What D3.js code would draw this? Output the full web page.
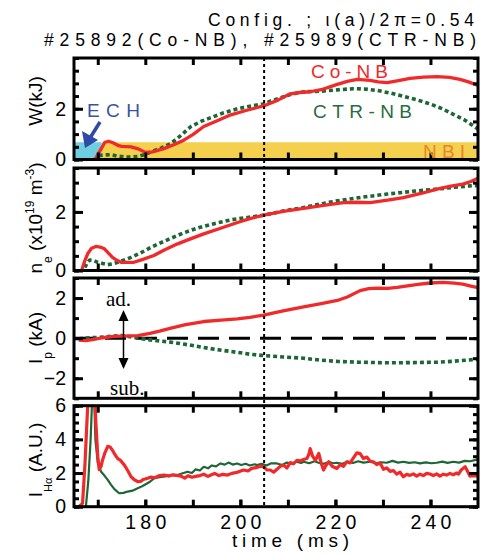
<!DOCTYPE html>
<html lang="en">
<head>
<meta charset="UTF-8">
<title>LHD Co-NB vs CTR-NB</title>
<script src="https://cdn.jsdelivr.net/npm/d3@7"></script>
<style>
    body { margin: 0; background: #fff; }
    svg text { font-family: "Liberation Sans", Arial, sans-serif; }
    .serif { font-family: "Liberation Serif", "Times New Roman", serif !important; }
</style>
</head>
<body>
<div id="chart"></div>
<script>
// ---- data (time in ms) ----
var timeTicks = [170, 180, 190, 200, 210, 220, 230, 240];
var timeLabels = [180, 200, 220, 240];
var markTime = 205;
var echSpan = [165, 170.8];
var nbiSpan = [170.8, 250];
var heatLevel = 0.68;

var wCo = [[169.4,0],[170.5,0.35],[171.5,0.68],[172.3,0.72],[173.2,0.66],[174.2,0.56],[175,0.52],[177,0.5],[178.5,0.42],[180,0.28],[181.5,0.3],[183.9,0.43],[186,0.58],[188.1,0.76],[190,0.98],[192.3,1.3],[195,1.52],[198,1.76],[201,1.92],[205,2.12],[208,2.35],[210.5,2.59],[212.5,2.64],[214.7,2.67],[217,2.75],[220.4,2.96],[222.5,3.08],[224.6,3.16],[227.3,3.12],[229,3.06],[230.9,3.03],[233,3.1],[235.7,3.2],[238.5,3.25],[241.4,3.27],[244,3.24],[246.2,3.16],[248,3.06],[250,2.92]];
var wCtr = [[170.2,0.16],[171.5,0.18],[172.8,0.19],[174,0.14],[175.5,0.1],[177,0.1],[178.4,0.12],[180,0.2],[181.2,0.3],[183.3,0.45],[185.4,0.63],[187.5,0.95],[189.6,1.3],[191.7,1.5],[193.8,1.65],[196.5,1.84],[199.4,2.0],[202,2.1],[204.9,2.19],[206.3,2.3],[208.4,2.43],[210.5,2.56],[212.6,2.65],[214.7,2.68],[216.8,2.69],[220,2.74],[223.8,2.79],[226,2.78],[228.8,2.72],[231.5,2.62],[234.3,2.49],[237,2.36],[239.9,2.19],[242.5,2.0],[244.7,1.79],[247,1.58],[249,1.33],[250,1.2]];

var neCo = [[166.6,0],[167.2,0.3],[167.9,0.58],[168.7,0.76],[169.6,0.82],[170.5,0.8],[171.4,0.74],[172.2,0.6],[173.1,0.45],[174,0.35],[174.9,0.28],[177.6,0.28],[179.5,0.38],[181.8,0.51],[184,0.7],[186.8,0.91],[189.5,1.08],[192.3,1.25],[196,1.45],[199.4,1.64],[202,1.77],[204.9,1.89],[209,2.02],[213.3,2.12],[217.5,2.22],[221.7,2.32],[224.5,2.33],[227.3,2.32],[231,2.4],[234.3,2.49],[238,2.63],[241.4,2.78],[244,2.87],[246.8,2.95],[248.5,3.04],[250,3.15]];
var neCtr = [[167.3,0.1],[167.8,0.28],[168.3,0.36],[169.2,0.34],[170,0.28],[171,0.24],[172.1,0.2],[173.2,0.23],[174.2,0.28],[175.6,0.36],[177,0.45],[179,0.6],[181.2,0.79],[183.3,0.95],[185.4,1.1],[188,1.28],[191,1.45],[194.5,1.6],[198,1.73],[201.5,1.81],[204.9,1.89],[209,2.03],[213.3,2.15],[216.8,2.27],[220.4,2.38],[225.5,2.5],[230.9,2.61],[236,2.7],[241.4,2.78],[245,2.84],[248.3,2.89],[250,2.9]];

var ipCo = [[166,-0.1],[167.5,-0.12],[169.2,-0.06],[171,0.02],[173,0.08],[174.9,0.1],[178.4,0.13],[181,0.24],[183,0.35],[185.4,0.5],[188.5,0.67],[192.3,0.83],[196,0.9],[199.4,0.96],[202,1.04],[204.9,1.15],[209,1.36],[213.3,1.56],[217,1.72],[220.4,1.88],[222.5,2.05],[225.2,2.37],[227,2.47],[228.8,2.5],[231,2.48],[233,2.53],[235.5,2.62],[237.8,2.69],[240,2.75],[242.6,2.78],[245,2.74],[246.8,2.69],[248.5,2.6],[250,2.52]];
var ipCtr = [[166,-0.03],[168.5,0.02],[171.3,0.05],[173,0.1],[174.9,0.13],[176.5,0.08],[178.4,0],[181.5,-0.1],[185.4,-0.2],[189,-0.33],[192.3,-0.47],[196,-0.6],[199.4,-0.71],[202,-0.8],[204.9,-0.87],[209,-0.94],[213.3,-1.0],[217,-1.1],[220.4,-1.16],[225,-1.2],[230.9,-1.23],[236,-1.22],[241.4,-1.2],[245,-1.15],[249,-1.07],[250,-1.05]];

var haCo = [[166,0],[166.8,0.2],[167.3,2.5],[167.8,5.5],[168.1,7],[169.3,7],[169.6,5],[170,3],[170.3,2.2],[170.7,2.4],[171,2.76],[171.5,3.2],[172.1,3.59],[172.6,3.55],[173.1,3.35],[173.6,3.1],[174.2,2.86],[174.8,2.75],[175.6,2.47],[176.3,2.15],[177,1.78],[177.7,1.6],[178.4,1.49],[179,1.5],[179.6,1.62],[180.5,1.69],[181.2,1.76],[182,1.72],[183,1.85],[184,1.88],[185,1.82],[185.8,1.9],[186.6,1.86],[187.5,1.82],[188.3,1.7],[189,1.84],[189.8,1.75],[190.6,1.8],[191.5,1.85],[192.3,1.93],[193.2,1.8],[193.8,1.88],[194.6,1.98],[195.5,1.85],[196.3,1.92],[197.3,1.88],[198.2,1.98],[199,2.02],[199.9,2.1],[200.7,2.18],[201.6,2.12],[202.4,2.28],[203.3,2.32],[204.2,2.41],[205,2.36],[205.6,2.18],[206.3,2.18],[207,2.05],[207.7,2.22],[208.4,2.4],[209.1,2.47],[209.8,2.3],[210.5,2.62],[211.2,2.55],[211.9,2.76],[212.6,2.72],[213.3,2.8],[214,2.86],[214.4,3.1],[214.7,3.45],[215.2,3.0],[215.8,2.76],[216.5,3.16],[217,2.6],[217.5,2.18],[218,2.45],[218.6,2.67],[219.3,2.4],[220.3,2.27],[221,2.5],[221.7,2.4],[222.4,2.67],[223.1,2.6],[223.8,2.9],[224.5,3.2],[225.2,3.15],[225.9,2.86],[226.6,2.95],[227.3,2.7],[228,2.67],[228.7,2.5],[229.4,2.6],[230.1,2.22],[230.8,2.3],[231.5,2.1],[232.2,2.15],[232.9,1.94],[233.6,2.05],[234.3,1.78],[235,1.92],[235.7,1.86],[236.4,1.95],[237.1,1.82],[237.8,1.93],[238.5,1.85],[239.2,1.98],[239.9,1.94],[240.6,1.85],[241.3,1.95],[242,1.82],[242.7,1.93],[243.4,1.88],[244.1,1.98],[244.8,1.9],[245.5,2.0],[245.9,1.94],[246.5,2.2],[247.3,2.37],[247.8,2.1],[248.3,1.82],[249,1.85],[250,1.82]];
var haCtr = [[167.5,0],[168,1.5],[168.5,4],[168.9,7],[169.2,7],[169.5,4],[170,2.6],[170.7,2.08],[171.4,1.85],[172.1,1.59],[172.8,1.3],[173.5,1.04],[174.5,0.8],[175.4,0.82],[176.3,0.9],[177.3,0.95],[178.4,1.1],[179.1,1.18],[179.8,1.29],[180.8,1.45],[181.9,1.69],[183,1.75],[184.2,1.8],[185.4,1.88],[186.5,1.85],[187.7,1.97],[188.9,2.08],[189.8,2.0],[190.6,2.22],[191.5,2.15],[192.3,2.37],[193.2,2.28],[194,2.45],[194.9,2.4],[195.8,2.57],[196.7,2.5],[197.5,2.62],[198.4,2.5],[199.3,2.57],[200.2,2.48],[201.1,2.55],[202,2.45],[203,2.52],[203.5,2.47],[204.5,2.55],[205.5,2.45],[206.5,2.58],[207.7,2.57],[208.8,2.48],[209.8,2.62],[210.8,2.55],[211.8,2.68],[212.8,2.6],[213.3,2.67],[214.5,2.58],[215.6,2.7],[216.6,2.6],[217.6,2.55],[218.6,2.66],[219.5,2.58],[220.3,2.61],[221.5,2.55],[222.6,2.68],[223.7,2.6],[224.8,2.7],[225.9,2.62],[227.3,2.67],[228.5,2.58],[229.6,2.64],[230.8,2.61],[232,2.72],[233.2,2.62],[234.3,2.67],[235.5,2.6],[236.7,2.64],[237.8,2.57],[239,2.63],[240.2,2.58],[241.3,2.61],[242.5,2.68],[243.6,2.6],[244.8,2.67],[246,2.62],[247.2,2.72],[248.4,2.7],[249.7,2.8],[250,2.82]];

// ---- layout ----
var svgw = 487, svgh = 554;
var RED = '#f02a2a', GREEN = '#1d6636';
var svg = d3.select('#chart').append('svg')
    .attr('width', svgw).attr('height', svgh);

var x = d3.scaleLinear().domain([165, 250]).range([74, 478]);

var panels = [
    {top: 58, bottom: 159.5, domain: [0, 4], minor: d3.range(0, 4.01, 0.5), labels: [0, 2]},
    {top: 168, bottom: 270.5, domain: [0, 3.5], minor: d3.range(0, 3.51, 0.5), labels: [0, 2]},
    {top: 278, bottom: 398.3, domain: [-3, 3], minor: d3.range(-3, 3.01, 1), labels: [-2, 0, 2]},
    {top: 405.7, bottom: 506.7, domain: [0, 6], minor: d3.range(0, 6.01, 0.5), labels: [0, 2, 4, 6]}
];
panels.forEach(function (p, i) {
    p.y = d3.scaleLinear().domain(p.domain).range([p.bottom, p.top]);
    svg.append('clipPath').attr('id', 'clip' + i)
        .append('rect').attr('x', x.range()[0]).attr('y', p.top)
        .attr('width', x.range()[1] - x.range()[0]).attr('height', p.bottom - p.top);
});

function lineFor(p) {
    return d3.line().x(function (d) { return x(d[0]); }).y(function (d) { return p.y(d[1]); });
}
function plot(i, data, color, width, dash) {
    var p = panels[i];
    svg.append('path').datum(data)
        .attr('clip-path', 'url(#clip' + i + ')')
        .attr('d', lineFor(p))
        .attr('fill', 'none').attr('stroke', color)
        .attr('stroke-width', width)
        .attr('stroke-dasharray', dash || null)
        .attr('stroke-linejoin', 'round');
}

// heating bands in the W panel
var p0 = panels[0];
svg.append('rect').attr('x', x(nbiSpan[0])).attr('width', x(nbiSpan[1]) - x(nbiSpan[0]))
    .attr('y', p0.y(heatLevel)).attr('height', p0.y(0) - p0.y(heatLevel)).attr('fill', '#f4d04e');
svg.append('rect').attr('x', x(echSpan[0])).attr('width', x(echSpan[1]) - x(echSpan[0]))
    .attr('y', p0.y(heatLevel)).attr('height', p0.y(0) - p0.y(heatLevel)).attr('fill', '#6fcfe0');

// zero line in Ip panel
svg.append('line').attr('x1', x(165)).attr('x2', x(250))
    .attr('y1', panels[2].y(0)).attr('y2', panels[2].y(0))
    .attr('stroke', '#000').attr('stroke-width', 3).attr('stroke-dasharray', '21,10');

// series
plot(0, wCtr, GREEN, 3.6, '4,3');
plot(0, wCo, RED, 3.3);
plot(1, neCtr, GREEN, 3.6, '4,3');
plot(1, neCo, RED, 3.3);
plot(2, ipCtr, GREEN, 3.6, '4,3');
plot(2, ipCo, RED, 3.3);
plot(3, haCtr, GREEN, 2.2);
plot(3, haCo, RED, 3.2);

// vertical dotted marker
svg.append('line').attr('x1', x(markTime)).attr('x2', x(markTime))
    .attr('y1', panels[0].top).attr('y2', panels[3].bottom)
    .attr('stroke', '#000').attr('stroke-width', 2).attr('stroke-dasharray', '3,3');

// frames and axes
panels.forEach(function (p, i) {
    var r = x.range();
    var g = svg.append('g');
    g.append('rect').attr('x', r[0]).attr('y', p.top)
        .attr('width', r[1] - r[0]).attr('height', p.bottom - p.top)
        .attr('fill', 'none').attr('stroke', '#000').attr('stroke-width', 3);

    var bottom = g.append('g').attr('transform', 'translate(0,' + p.bottom + ')')
        .call(d3.axisBottom(x).tickValues(timeTicks).tickSize(-7).tickFormat(''));
    g.append('g').attr('transform', 'translate(0,' + p.top + ')')
        .call(d3.axisTop(x).tickValues(timeTicks).tickSize(-7).tickFormat(''));
    g.append('g').attr('transform', 'translate(' + r[0] + ',0)')
        .call(d3.axisLeft(p.y).tickValues(p.minor).tickSize(-5).tickFormat(''));
    g.append('g').attr('transform', 'translate(' + r[1] + ',0)')
        .call(d3.axisRight(p.y).tickValues(p.minor).tickSize(-5).tickFormat(''));
    g.append('g').attr('transform', 'translate(' + r[0] + ',0)')
        .call(d3.axisLeft(p.y).tickValues(p.labels).tickSize(-9).tickPadding(8).tickFormat(d3.format('d')));
    g.append('g').attr('transform', 'translate(' + r[1] + ',0)')
        .call(d3.axisRight(p.y).tickValues(p.labels).tickSize(-9).tickFormat(''));

    if (i === 3) {
        bottom.remove();
        g.append('g').attr('transform', 'translate(0,' + p.bottom + ')')
            .call(d3.axisBottom(x).tickValues(timeLabels).tickSize(-7).tickPadding(8).tickFormat(d3.format('d')))
            .selectAll('text').attr('textLength', 41).attr('lengthAdjust', 'spacing');
        g.append('g').attr('transform', 'translate(0,' + p.bottom + ')')
            .call(d3.axisBottom(x).tickValues(timeTicks).tickSize(-7).tickFormat(''));
    }
    g.selectAll('.domain').remove();
    g.selectAll('.tick line').attr('stroke', '#000').attr('stroke-width', 3);
    g.selectAll('.tick text').attr('fill', '#000').attr('font-size', 19.5)
        .style('font-family', '"Liberation Sans", Arial, sans-serif');
});

// titles
svg.append('text').attr('x', 208).attr('y', 25.5).attr('font-size', 17.5)
    .attr('textLength', 266).attr('lengthAdjust', 'spacing')
    .text('Config. ; \u03b9(a)/2\u03c0=0.54');
svg.append('text').attr('x', 44).attr('y', 45.5).attr('font-size', 17.5)
    .attr('textLength', 432).attr('lengthAdjust', 'spacing')
    .text('#25892(Co-NB), #25989(CTR-NB)');
svg.append('text').attr('x', 232).attr('y', 547).attr('font-size', 19)
    .attr('textLength', 117).attr('lengthAdjust', 'spacing')
    .text('time (ms)');

// y labels (rotated)
function ylabel(cy, parts) {
    var t = svg.append('text').attr('transform', 'translate(42,' + cy + ') rotate(-90)')
        .attr('text-anchor', 'middle').attr('font-size', 19);
    parts.forEach(function (pt) {
        t.append('tspan').attr('dy', pt[1] || 0).attr('font-size', pt[2] || null).text(pt[0]);
    });
}
ylabel(101, [['W(kJ)']]);
ylabel(218, [['n'], ['e', 10, 12], [' (x10', -10], ['19', -8, 12], [' m', 8], ['-3', -8, 12], [')', 8]]);
ylabel(338, [['I'], ['p', 10, 12], [' (kA)', -10]]);
ylabel(460, [['I'], ['H\u03b1', 10, 11], [' (A.U.)', -10]]);

// annotations
svg.append('text').attr('x', 311).attr('y', 78).attr('font-size', 19).attr('fill', RED)
    .attr('textLength', 77).attr('lengthAdjust', 'spacing').text('Co-NB');
svg.append('text').attr('x', 313).attr('y', 118).attr('font-size', 19).attr('fill', '#2a6c40')
    .attr('textLength', 99).attr('lengthAdjust', 'spacing').text('CTR-NB');
svg.append('text').attr('x', 423).attr('y', 158).attr('font-size', 19).attr('fill', '#e8842c')
    .attr('textLength', 42).attr('lengthAdjust', 'spacing').text('NBI');
svg.append('text').attr('x', 87).attr('y', 117).attr('font-size', 19).attr('fill', '#3b52a3')
    .attr('textLength', 53).attr('lengthAdjust', 'spacing').text('ECH');

// ECH arrow
svg.append('line').attr('x1', 100).attr('y1', 122).attr('x2', 90).attr('y2', 138)
    .attr('stroke', '#2f4aa6').attr('stroke-width', 3.5);
svg.append('path').attr('d', 'M85,148 L82,131 L98,140 Z').attr('fill', '#2f4aa6');

// ad./sub. arrow
svg.append('text').attr('class', 'serif').attr('x', 106).attr('y', 306).attr('font-size', 21).text('ad.');
svg.append('text').attr('class', 'serif').attr('x', 110).attr('y', 395).attr('font-size', 21).text('sub.');
svg.append('line').attr('x1', 123.5).attr('y1', 318).attr('x2', 123.5).attr('y2', 361)
    .attr('stroke', '#000').attr('stroke-width', 1.5);
svg.append('path').attr('d', 'M123.5,310 L118.5,321 L128.5,321 Z M123.5,369 L118.5,358 L128.5,358 Z')
    .attr('fill', '#000');
</script>
</body>
</html>
